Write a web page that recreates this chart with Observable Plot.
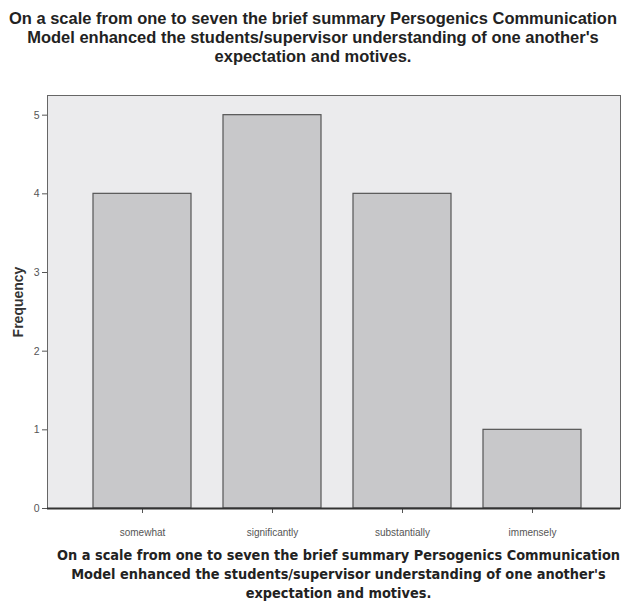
<!DOCTYPE html>
<html><head><meta charset="utf-8">
<script src="https://cdn.jsdelivr.net/npm/d3@7"></script>
<script src="https://cdn.jsdelivr.net/npm/@observablehq/plot@0.6"></script>
<style>
body{margin:0;background:#fff;width:625px;overflow:hidden;}
#top{position:relative;height:80px;text-align:center;font-family:"Liberation Sans",Arial,sans-serif;font-weight:bold;font-size:17px;line-height:19px;color:#222;white-space:nowrap;}
#top .inner{position:absolute;top:9px;left:50%;display:inline-block;transform-origin:center top;text-align:center;}
#bottom{text-align:center;font-family:"DejaVu Sans Condensed","DejaVu Sans",sans-serif;font-weight:bold;font-size:14.4px;line-height:19px;color:#222;padding-left:52px;margin-top:4px;white-space:nowrap;}
g[aria-label="y-axis label"] text{font-weight:bold;font-size:14px;fill:#333;font-family:"Liberation Sans",Arial,sans-serif;}
</style></head><body>
<div id="top"><span class="inner">On a scale from one to seven the brief summary Persogenics Communication<br>Model enhanced the students/supervisor understanding of one another's<br>expectation and motives.</span></div>
<div id="chart"></div>
<div id="bottom">On a scale from one to seven the brief summary Persogenics Communication<br>Model enhanced the students/supervisor understanding of one another's<br>expectation and motives.</div>
<script>
const categories = ["somewhat", "significantly", "substantially", "immensely"];
const frequencies = [4, 5, 4, 1];
const yTicks = [0, 1, 2, 3, 4, 5];
const data = categories.map((c, i) => ({category: c, frequency: frequencies[i]}));

const chart = Plot.plot({
  width: 625,
  height: 462,
  marginLeft: 47,
  marginRight: 5,
  marginTop: 15,
  marginBottom: 34,
  style: {fontFamily: "'Liberation Sans',Arial,sans-serif", fontSize: "10.5px", color: "#555", background: "#fff"},
  x: {domain: categories, padding: 0.244, paddingOuter: 0.336, range: [47, 627]},
  y: {domain: [0, 5.25]},
  marks: [
    Plot.frame({fill: "#ebebed", stroke: "#666", strokeWidth: 1}),
    Plot.barY(data, {x: "category", y: "frequency", fill: "#c8c8ca", stroke: "#555", strokeWidth: 1.2}),
    Plot.axisY({ticks: yTicks, tickFormat: d3.format("d"), tickSize: 5, tickPadding: 3, stroke: "#555", label: "Frequency", labelAnchor: "center", labelArrow: "none", labelOffset: 34}),
    Plot.axisX({tickSize: 5, tickPadding: 15, stroke: "#555", label: null, fontSize: 10}),
    Plot.ruleY([0], {stroke: "#333", strokeWidth: 2})
  ]
});
document.getElementById("chart").appendChild(chart);

// condense the top title to the reference's narrow width, centred at x = 314
const inner = document.querySelector("#top .inner");
const w = inner.getBoundingClientRect().width;
inner.style.transform = `translateX(-50%) scaleX(${608 / w})`;
</script>
</body></html>
